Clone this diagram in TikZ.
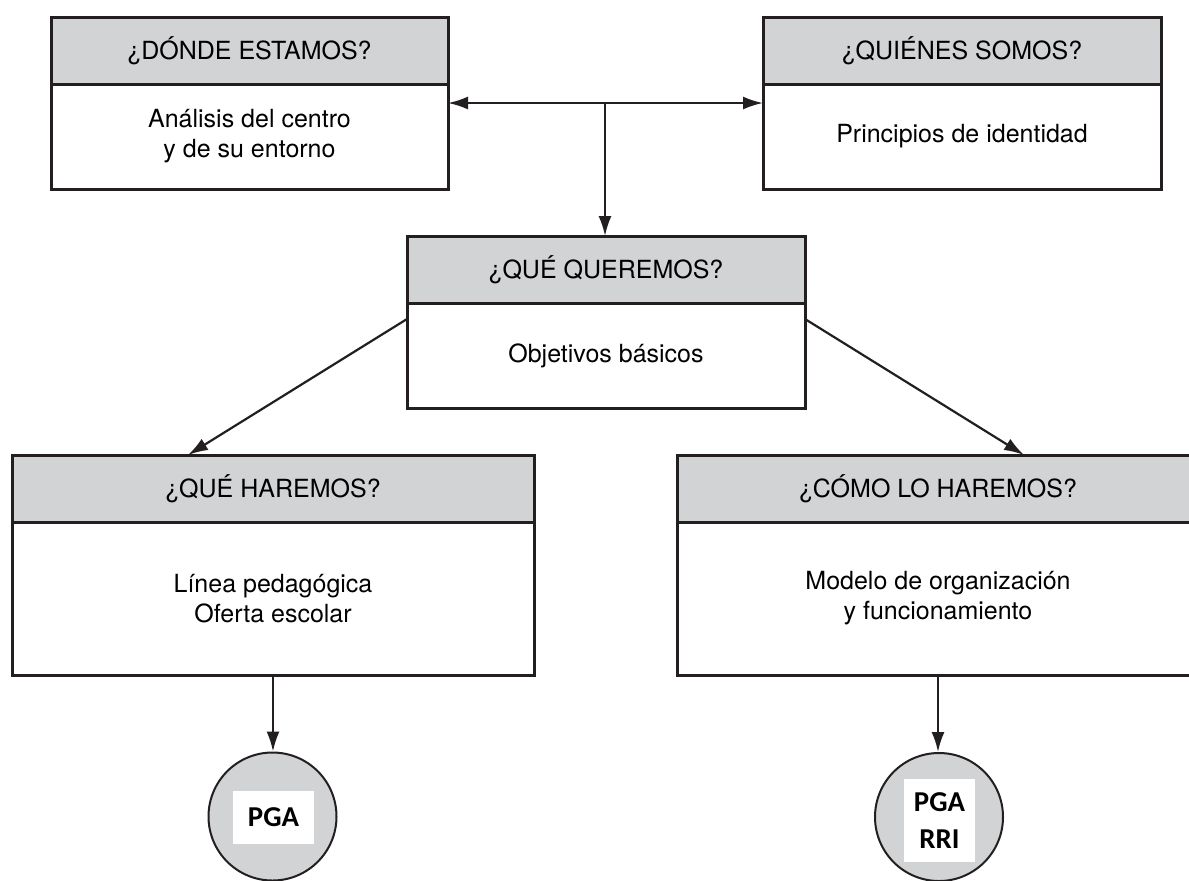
\documentclass[tikz,border=0pt]{standalone}
\usepackage{fontspec}
\setmainfont{TeX Gyre Heros}
\newfontfamily\calibri{Carlito}
\usetikzlibrary{arrows.meta}
\usetikzlibrary{positioning}
\definecolor{headgray}{HTML}{D2D3D5}
\definecolor{ink}{HTML}{231F20}
\tikzset{head/.style = {draw=ink, line width=1.5pt, fill=headgray,
                        outer sep=0pt, inner sep=0pt, minimum height=33.5pt,
                        font=\fontsize{12.5}{15}\selectfont},
         body/.style = {draw=ink, line width=1.5pt, fill=white, align=center,
                        outer sep=0pt, inner sep=0pt,
                        font=\fontsize{12.5}{15}\selectfont},
         tip/.tip = {Latex[length=10pt,width=6.5pt]},
         link/.style = {draw=ink, line width=1.1pt, -tip},
         doc/.style = {circle, draw=ink, line width=1pt, fill=headgray,
                       minimum size=64pt, inner sep=0pt},
         tag/.style = {fill=white, inner sep=0pt, align=center,
                       font=\calibri\bfseries\fontsize{14.4}{18.5}\selectfont}}
\begin{document}
\begin{tikzpicture}[x=0.5pt, y=-0.5pt]
    \useasboundingbox (0, 0) rectangle (1189, 880);

    % top row
    \node [head, minimum width=198.5pt] (dondeH) at (249.5, 50.5) {¿DÓNDE ESTAMOS?};
    \node [body, minimum width=198.5pt, minimum height=52.5pt, below=0pt of dondeH] (donde)
        {Análisis del centro\\y de su entorno};
    \node [head, minimum width=199pt] (quienesH) at (962, 50.5) {¿QUIÉNES SOMOS?};
    \node [body, minimum width=199pt, minimum height=52.5pt, below=0pt of quienesH] (quienes)
        {Principios de identidad};

    % middle
    \node [head, minimum width=199pt] (queremosH) at (606, 269.5) {¿QUÉ QUEREMOS?};
    \node [body, minimum width=199pt, minimum height=52.5pt, below=0pt of queremosH] (queremos)
        {Objetivos básicos};

    % bottom row
    \node [head, minimum width=261pt] (haremosH) at (273, 488.5) {¿QUÉ HAREMOS?};
    \node [body, minimum width=261pt, minimum height=76.5pt, below=0pt of haremosH] (haremos)
        {Línea pedagógica\\Oferta escolar};
    \node [head, minimum width=261pt] (comoH) at (938, 488.5) {¿CÓMO LO HAREMOS?};
    \node [body, minimum width=261pt, minimum height=76.5pt, below=0pt of comoH] (como)
        {Modelo de organización\\y funcionamiento};

    % documents
    \node [doc] (pga) at (272.5, 816.5) {};
    \node [tag, minimum width=40.5pt, minimum height=26.5pt] (pgaTag) at (273.5, 817.5) {PGA};
    \node [doc] (rri) at (939, 817) {};
    \node [tag, minimum width=35.5pt, minimum height=41.5pt] (rriTag) at (939.5, 820.5) {PGA\\RRI};

    % connectors
    \coordinate (split) at (605, 103);
    \draw [link, tip-tip] (split -| donde.east) -- (split -| quienes.west);
    \draw [link] (split) -- (split |- queremosH.north);
    \draw [link] ([yshift=-8pt]queremos.north west) -- ([xshift=-42.5pt]haremosH.north);
    \draw [link] ([yshift=-8pt]queremos.north east) -- ([xshift=43pt]comoH.north);
    \draw [link] (haremos.south) -- (haremos.south |- pga.north);
    \draw [link] (como.south) -- (como.south |- rri.north);
\end{tikzpicture}
\end{document}
